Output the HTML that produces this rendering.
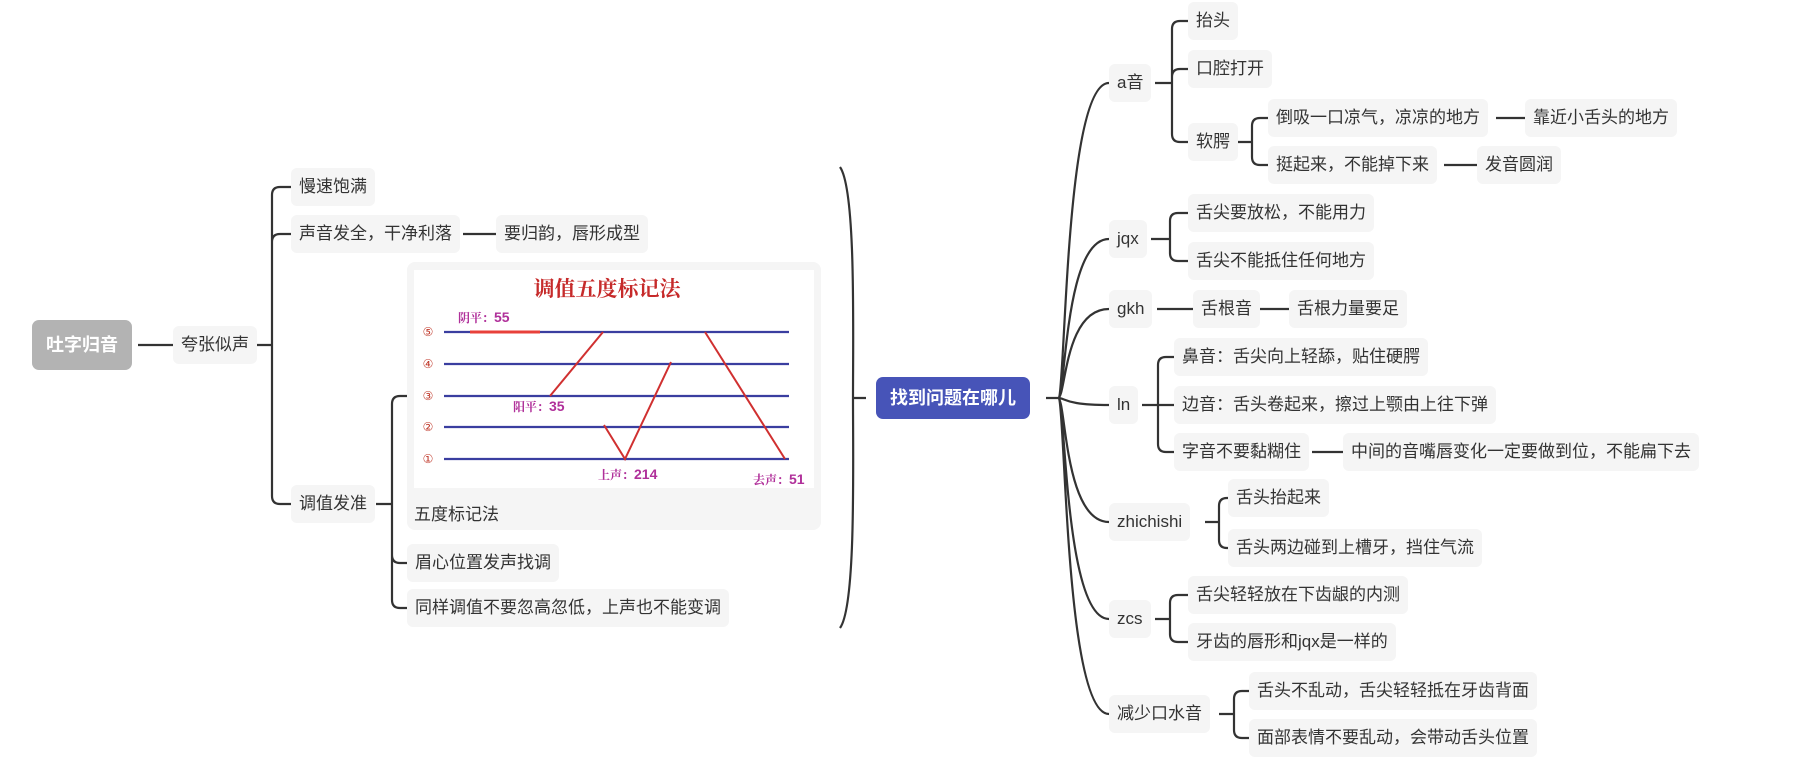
<!DOCTYPE html>
<html><head><meta charset="utf-8">
<style>
html,body{margin:0;padding:0;background:#fff;}
body{width:1799px;height:772px;position:relative;overflow:hidden;font-family:"Liberation Sans","Noto Sans CJK SC",sans-serif;}
.n{position:absolute;height:38px;line-height:38px;padding:0 8px;background:#f5f5f5;border-radius:6px;font-size:17px;color:#333;white-space:nowrap;box-sizing:border-box;}
svg{position:absolute;left:0;top:0;}
</style></head><body>
<svg id="cn" width="1799" height="772" fill="none" stroke="#333" stroke-width="2.2"></svg>

<div class="n" style="left:32px;top:320px;height:50px;line-height:50px;background:#b3b3b3;color:#fff;font-weight:bold;font-size:18px;padding:0 14px;border-radius:7px;">吐字归音</div>
<div class="n" style="left:173px;top:326px;">夸张似声</div>
<div class="n" style="left:291px;top:168px;">慢速饱满</div>
<div class="n" style="left:291px;top:215px;">声音发全，干净利落</div>
<div class="n" style="left:496px;top:215px;">要归韵，唇形成型</div>
<div class="n" style="left:291px;top:485px;">调值发准</div>

<div class="n" style="left:407px;top:262px;width:414px;height:268px;border-radius:8px;"></div>
<svg width="1799" height="772" style="left:0;top:0">
<rect x="414" y="270" width="400" height="218" fill="#fff"/>
<text x="607" y="296" text-anchor="middle" fill="#c62a2a" font-size="21" font-weight="bold" font-family="Liberation Serif,Noto Serif CJK SC,serif">调值五度标记法</text>
<g stroke="#3a3ea0" stroke-width="2.2">
<line x1="444" y1="332" x2="789" y2="332"/><line x1="444" y1="364" x2="789" y2="364"/><line x1="444" y1="396" x2="789" y2="396"/><line x1="444" y1="427" x2="789" y2="427"/><line x1="444" y1="459" x2="789" y2="459"/>
</g>
<g fill="#c0392b" font-size="12" text-anchor="middle" font-family="DejaVu Sans,sans-serif">
<text x="428" y="336">⑤</text><text x="428" y="368">④</text><text x="428" y="400">③</text><text x="428" y="431">②</text><text x="428" y="463">①</text>
</g>
<g stroke="#d03030" stroke-width="2" fill="none">
<line x1="470" y1="332" x2="540" y2="332" stroke="#e8403a" stroke-width="3"/>
<line x1="550" y1="396" x2="603" y2="332"/>
<polyline points="604,425 625,459 671,362" fill="none"/>
<line x1="705" y1="332" x2="785" y2="459"/>
</g>
<g fill="#b0309a" font-size="12" font-weight="bold" font-family="Liberation Serif,Noto Serif CJK SC,serif">
<text x="458" y="322">阴平：<tspan font-family="Liberation Sans,sans-serif" font-size="14">55</tspan></text>
<text x="513" y="411">阳平：<tspan font-family="Liberation Sans,sans-serif" font-size="14">35</tspan></text>
<text x="598" y="479">上声：<tspan font-family="Liberation Sans,sans-serif" font-size="14">214</tspan></text>
<text x="753" y="484">去声：<tspan font-family="Liberation Sans,sans-serif" font-size="14">51</tspan></text>
</g>
</svg>
<div style="position:absolute;left:414px;top:500px;font-size:17px;color:#333;">五度标记法</div>

<div class="n" style="left:407px;top:544px;">眉心位置发声找调</div>
<div class="n" style="left:407px;top:589px;">同样调值不要忽高忽低，上声也不能变调</div>

<div class="n" style="left:876px;top:377px;height:42px;line-height:42px;background:#4754b8;color:#fff;font-weight:bold;font-size:18px;padding:0 14px;border-radius:7px;">找到问题在哪儿</div>

<div class="n" style="left:1109px;top:64px;">a音</div>
<div class="n" style="left:1188px;top:2px;">抬头</div>
<div class="n" style="left:1188px;top:50px;">口腔打开</div>
<div class="n" style="left:1188px;top:123px;">软腭</div>
<div class="n" style="left:1268px;top:99px;">倒吸一口凉气，凉凉的地方</div>
<div class="n" style="left:1525px;top:99px;">靠近小舌头的地方</div>
<div class="n" style="left:1268px;top:146px;">挺起来，不能掉下来</div>
<div class="n" style="left:1477px;top:146px;">发音圆润</div>

<div class="n" style="left:1109px;top:220px;">jqx</div>
<div class="n" style="left:1188px;top:194px;">舌尖要放松，不能用力</div>
<div class="n" style="left:1188px;top:242px;">舌尖不能抵住任何地方</div>

<div class="n" style="left:1109px;top:290px;">gkh</div>
<div class="n" style="left:1193px;top:290px;">舌根音</div>
<div class="n" style="left:1289px;top:290px;">舌根力量要足</div>

<div class="n" style="left:1109px;top:386px;">ln</div>
<div class="n" style="left:1174px;top:338px;">鼻音：舌尖向上轻舔，贴住硬腭</div>
<div class="n" style="left:1174px;top:386px;">边音：舌头卷起来，擦过上颚由上往下弹</div>
<div class="n" style="left:1174px;top:433px;">字音不要黏糊住</div>
<div class="n" style="left:1343px;top:433px;">中间的音嘴唇变化一定要做到位，不能扁下去</div>

<div class="n" style="left:1109px;top:503px;">zhichishi</div>
<div class="n" style="left:1228px;top:479px;">舌头抬起来</div>
<div class="n" style="left:1228px;top:529px;">舌头两边碰到上槽牙，挡住气流</div>

<div class="n" style="left:1109px;top:600px;">zcs</div>
<div class="n" style="left:1188px;top:576px;">舌尖轻轻放在下齿龈的内测</div>
<div class="n" style="left:1188px;top:623px;">牙齿的唇形和jqx是一样的</div>

<div class="n" style="left:1109px;top:695px;">减少口水音</div>
<div class="n" style="left:1249px;top:672px;">舌头不乱动，舌尖轻轻抵在牙齿背面</div>
<div class="n" style="left:1249px;top:719px;">面部表情不要乱动，会带动舌头位置</div>

<script>
var s=document.getElementById('cn'),d='';
function L(x1,y1,x2,y2){d+='M'+x1+' '+y1+'L'+x2+' '+y2;}
function B(px,py,bx,ys,cx){var r=8;d+='M'+px+' '+py+'H'+bx;
ys.forEach(function(y){if(Math.abs(y-py)<1){d+='M'+bx+' '+py+'H'+cx;return;}
var sg=y>py?1:-1;d+='M'+bx+' '+py+'V'+(y-sg*r)+'Q'+bx+' '+y+' '+(bx+r)+' '+y+'H'+cx;});}
L(138,345,173,345);
B(256,345,272,[187,234,504],291);
L(463,234,496,234);
B(376,504,392,[396,563,608],407);
d+='M840 167C856 190 853 330 853 398C853 466 856 606 840 628M853 398H866';
[83,239,309,405,522,619,714].forEach(function(y){d+='M1046 398H1058C1066 398 1064 '+y+' 1109 '+y;});
B(1155,83,1172,[21,69,142],1188);
B(1235,142,1252,[118,165],1268);
L(1496,118,1525,118);L(1444,165,1477,165);
B(1151,239,1170,[213,261],1188);
L(1157,309,1193,309);L(1257,309,1289,309);
B(1142,405,1158,[357,405,452],1174);
L(1312,452,1343,452);
B(1205,522,1219,[498,548],1228);
B(1155,619,1170,[595,642],1188);
B(1219,714,1234,[691,738],1249);
var p=document.createElementNS('http://www.w3.org/2000/svg','path');p.setAttribute('d',d);s.appendChild(p);
</script>
</body></html>
